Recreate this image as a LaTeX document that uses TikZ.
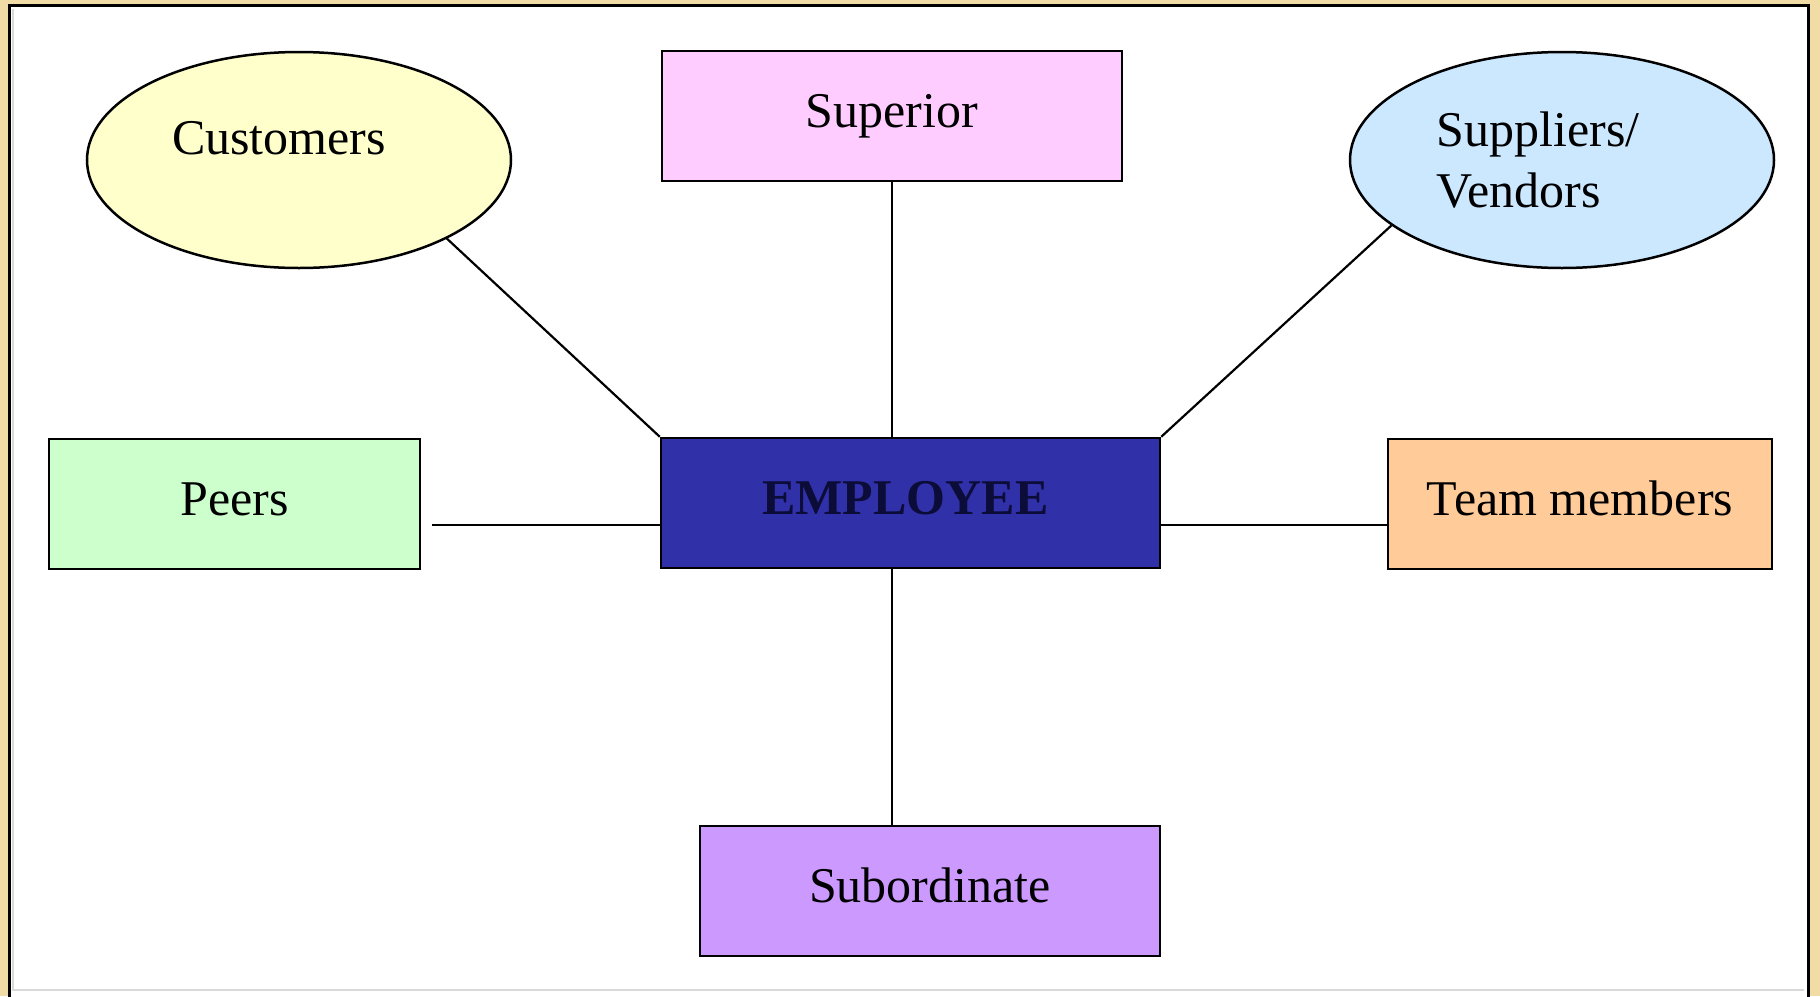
\documentclass[tikz,border=0pt]{standalone}
\usepackage{fontspec}
\setmainfont{Liberation Serif}
\usetikzlibrary{shapes.geometric}
\definecolor{outerbg}{HTML}{F0DCA4}
\definecolor{custfill}{HTML}{FFFFCC}
\definecolor{supfill}{HTML}{FFCCFF}
\definecolor{vendfill}{HTML}{CCE8FF}
\definecolor{peerfill}{HTML}{CCFFCC}
\definecolor{empfill}{HTML}{3030A8}
\definecolor{emptext}{HTML}{0C0C38}
\definecolor{teamfill}{HTML}{FFCC99}
\definecolor{subfill}{HTML}{CC99FF}
\tikzset{
  lbl/.style={font=\fontsize{25pt}{24.5pt}\selectfont, text height=17pt, text depth=5.5pt},
  box/.style={draw=black, line width=1.25pt, rectangle, minimum height=65pt, inner sep=0pt, lbl},
  oval/.style={draw=black, line width=1.25pt, ellipse, minimum width=212pt, minimum height=108pt, inner sep=0pt},
  link/.style={draw=black, line width=1.1pt}
}
\begin{document}
\begin{tikzpicture}[x=0.5pt,y=-0.5pt]
\useasboundingbox (0,0) rectangle (1820,996);
\fill[outerbg] (0,0) rectangle (1820,996);
\draw[fill=white, line width=1.5pt] (9,5) rectangle (1808,1004);
\draw[black!15, line width=0.8pt] (13,9) -- (13,990) -- (1804,990);

\node[oval, fill=custfill] (cust) at (299,160) {};
\node[lbl, xshift=-10pt, yshift=8.75pt] (custtext) at (cust.center) {Customers};
\node[box, fill=supfill, minimum width=230pt] (sup) at (892,116) {Superior};
\node[oval, fill=vendfill] (vend) at (1562,160) {};
\node[font=\fontsize{25pt}{30.5pt}\selectfont, align=left, xshift=-12pt, yshift=0pt, inner sep=0pt] (vendtext) at (vend.center) {Suppliers/\\Vendors};
\node[box, fill=peerfill, minimum width=185.5pt] (peers) at (234.5,504) {Peers};
\node[box, fill=empfill, minimum width=249.5pt, text=emptext, font=\fontsize{25pt}{24.5pt}\selectfont\bfseries] (emp) at (910.5,503) {\hspace*{-5pt}EMPLOYEE};
\node[box, fill=teamfill, minimum width=192pt] (team) at (1580,504) {Team members};
\node[box, fill=subfill, minimum width=230pt] (sub) at (930,891) {Subordinate};

\coordinate (empW) at ([yshift=-11pt]emp.west);
\coordinate (empE) at ([yshift=-11pt]emp.east);
\coordinate (peersE) at ([xshift=5.5pt]peers.east |- empW);
\coordinate (teamW) at (team.west |- empE);

\draw[link] (cust.-28) -- (emp.north west);
\draw[link] (vend.201) -- (emp.north east);
\draw[link] (sup.south) -- (sup.south |- emp.north);
\draw[link] (sup.south |- emp.south) -- (sup.south |- sub.north);
\draw[link] (empW) -- (peersE);
\draw[link] (empE) -- (teamW);
\end{tikzpicture}
\end{document}
